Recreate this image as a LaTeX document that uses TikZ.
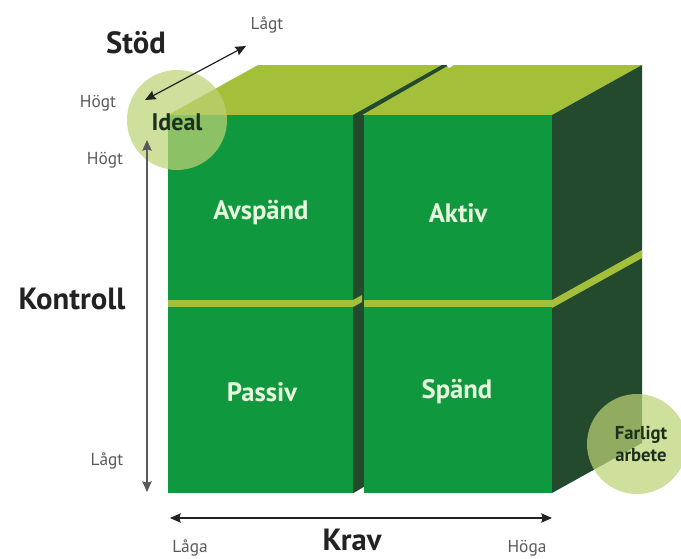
\documentclass[tikz,border=0pt]{standalone}
\usepackage{fontspec}
\setmainfont{PT Sans}
\usepackage{xcolor}
\usetikzlibrary{arrows.meta}
\definecolor{frontgreen}{RGB}{16,152,62}
\definecolor{topgreen}{RGB}{164,192,58}
\definecolor{sidegreen}{RGB}{36,74,46}
\definecolor{paleblob}{RGB}{188,210,118}
\definecolor{labelwhite}{RGB}{232,246,222}
\definecolor{inkgray}{RGB}{90,90,90}
\definecolor{inkdark}{RGB}{34,34,34}
\definecolor{blobink}{RGB}{28,48,30}

\begin{document}
\begin{tikzpicture}[x=0.75pt,y=-0.75pt,
  axisarrow/.style={{Stealth[length=8pt,width=7pt,inset=1pt]}-{Stealth[length=8pt,width=7pt,inset=1pt]},line width=0.9pt,inkdark},
  axistitle/.style={text=inkdark,font=\fontsize{23}{26}\selectfont\bfseries},
  axisend/.style={text=inkgray,font=\fontsize{13}{15}\selectfont},
  boxlabel/.style={text=labelwhite,font=\fontsize{20}{22}\selectfont\bfseries},
  blobtext/.style={text=blobink,font=\fontsize{14}{16}\selectfont\bfseries,align=center},
  blob/.style={fill=paleblob,opacity=0.72}]
\useasboundingbox (0,0) rectangle (681,558);
% cube: top and side
\fill[topgreen](168,115)--(258,65)--(642,65)--(552,115)--cycle;
\fill[sidegreen](552,115)--(642,65)--(642,443)--(552,493)--cycle;
% gaps between the four blocks
\fill[sidegreen](353,115)--(442,65)--(449,65)--(362,115)--cycle;
\fill[white](445,63)--(457,63)--(449,68)--cycle;
\fill[sidegreen](353,115)rectangle(364,493);
\fill[topgreen](168,300)rectangle(353,307);
\fill[topgreen](364,300)rectangle(552,307);
\fill[topgreen](353,300)--(362,295)--(362,302)--(353,307)--cycle;
\fill[topgreen](552,300)--(642,250)--(642,258)--(552,308)--cycle;
\fill[white](352,494)--(364,487)--(365,494)--cycle;
% front faces
\fill[frontgreen](168,115)rectangle(353,300);
\fill[frontgreen](364,115)rectangle(552,300);
\fill[frontgreen](168,307)rectangle(353,493);
\fill[frontgreen](364,307)rectangle(552,493);
\node[boxlabel](avspand)at(261,213){Avspänd};
\node[boxlabel](aktiv)at(458,213){Aktiv};
\node[boxlabel](passiv)at(262,392){Passiv};
\node[boxlabel](spand)at(457,392){Spänd};
% circles
\fill[blob](177,120)circle[radius=50];
\fill[blob](637,444)circle[radius=50];
\node[blobtext](ideal)at(177,122){\fontsize{18}{20}\selectfont Ideal};
\node[blobtext](farligt)at(641,444){Farligt\\arbete};
% axes
\coordinate(stod-hi)at(145,100);
\coordinate(stod-lo)at(246,46);
\coordinate(kon-hi)at(147,140);
\coordinate(kon-lo)at(147,492);
\coordinate(krav-lo)at(170,518);
\coordinate(krav-hi)at(552,518);
\draw[axisarrow](stod-hi)--(stod-lo);
\draw[axisarrow,inkgray](kon-hi)--(kon-lo);
\draw[axisarrow](krav-lo)--(krav-hi);
\node[axistitle](stod)at(136,43){Stöd};
\node[axisend](stod-lagt)at(267,25){Lågt};
\node[axisend](stod-hogt)at(98,103){Högt};
\node[axisend](kon-hogt)at(105,160){Högt};
\node[axistitle](kontroll)at(72,299){Kontroll};
\node[axisend](kon-lagt)at(107,461){Lågt};
\node[axisend](krav-laga)at(190,548){Låga};
\node[axistitle,inner sep=0pt](krav)at(352,540){Krav};
\node[axisend](krav-hoga)at(527,548){Höga};
\end{tikzpicture}
\end{document}
